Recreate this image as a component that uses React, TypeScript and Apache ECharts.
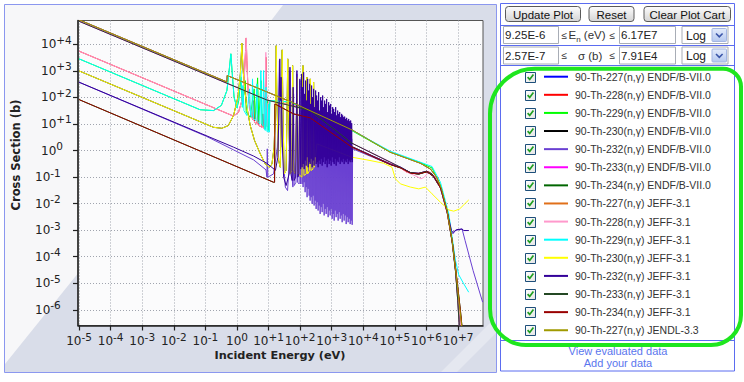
import React, { useEffect, useRef } from "react";
import * as echarts from "echarts";

type P = [number, number];

const xTickValues = [1e-5, 1e-4, 1e-3, 1e-2, 1e-1, 1, 10, 100, 1e3, 1e4, 1e5, 1e6, 1e7];
const yTickValues = [1e-6, 1e-5, 1e-4, 1e-3, 1e-2, 1e-1, 1, 10, 100, 1e3, 1e4];

const seriesNames = [
  "90-Th-227(n,γ) ENDF/B-VII.0",
  "90-Th-228(n,γ) ENDF/B-VII.0",
  "90-Th-229(n,γ) ENDF/B-VII.0",
  "90-Th-230(n,γ) ENDF/B-VII.0",
  "90-Th-232(n,γ) ENDF/B-VII.0",
  "90-Th-233(n,γ) ENDF/B-VII.0",
  "90-Th-234(n,γ) ENDF/B-VII.0",
  "90-Th-227(n,γ) JEFF-3.1",
  "90-Th-228(n,γ) JEFF-3.1",
  "90-Th-229(n,γ) JEFF-3.1",
  "90-Th-230(n,γ) JEFF-3.1",
  "90-Th-232(n,γ) JEFF-3.1",
  "90-Th-233(n,γ) JEFF-3.1",
  "90-Th-234(n,γ) JEFF-3.1",
  "90-Th-227(n,γ) JENDL-3.3",
];

const seriesColors = [
  "#0000ff", "#ff0000", "#00ff00", "#000000", "#6a40d2", "#ff00ff", "#006600",
  "#e0701a", "#ff99cc", "#00ffff", "#ffff00", "#330099", "#244824", "#990000", "#a09a00",
];

// ---- Th-227 ----
const th227: P[] = [[1e-5, 8.4e4], [0.48, 383], [0.49, 668], [48.8, 70], [4370, 6.0], [7.2e4, 0.865], [6.4e5, 0.333], [1.34e6, 0.2], [2.1e6, 0.1], [3.0e6, 0.036], [4.5e6, 0.0055], [6.5e6, 4.1e-4], [8.9e6, 1.7e-5], [1.12e7, 1.26e-6], [1.34e7, 1.9e-7]];

// ---- Th-228 ----
const th228Low: P[] = [[1e-5, 5540], [0.78, 19.8], [1.12, 27.6], [1.43, 76], [1.7, 580], [1.87, 5800], [1.96, 1.74e4], [2.06, 2450], [2.27, 136], [2.63, 32], [3.15, 14.5]];
const th228EndfRes: P[] = [[3.36, 76], [3.59, 11.7], [4.28, 10], [4.6, 32], [4.94, 8.7], [6.17, 7.6], [6.6, 24], [7.13, 6.9], [7.87, 118], [8.26, 3270], [8.65, 210], [9.1, 8], [9.5, 60], [11.3, 76]];
const th228JeffRes: P[] = [[4.28, 10], [6.17, 7.6], [7.13, 6.9], [7.87, 150], [8.2, 5000], [8.55, 150], [9.1, 8], [9.5, 60], [11.3, 76]];
const th228Mid: P[] = [[62, 49.5], [209, 32], [4370, 1.34], [7.2e4, 0.31], [1.17e5, 0.27], [2.4e5, 0.153]];
const th228JeffFast: P[] = [[5.0e5, 0.105], [6.7e5, 0.086], [8.5e5, 0.099], [1.18e6, 0.153], [1.7e6, 0.114], [2.77e6, 0.039], [4.5e6, 0.0048], [6.5e6, 4.1e-4], [8.3e6, 4.1e-5], [1.05e7, 2.2e-6], [1.2e7, 2.6e-7]];
const th228EndfFast: P[] = [[5.0e5, 0.135], [8.5e5, 0.15], [1.18e6, 0.16], [1.7e6, 0.114], [2.77e6, 0.039], [4.5e6, 0.0048], [6.5e6, 4.1e-4], [8.3e6, 4.1e-5], [1.05e7, 2.2e-6], [1.2e7, 2.6e-7]];

// ---- Th-229 ----
const th229Low: P[] = [[1e-5, 2840], [0.068, 34.4], [0.18, 32], [0.32, 50], [0.48, 182], [0.58, 1380], [0.64, 4400], [0.71, 775], [0.81, 101], [1.0, 40]];
const th229JeffRes: P[] = [[1.14, 102], [1.33, 1030], [1.43, 102], [1.5, 43], [1.54, 280], [1.66, 32], [2.06, 20.8], [2.5, 210], [2.7, 20.8], [2.96, 18], [3.1, 500], [3.36, 15.5], [3.95, 13.5], [4.28, 325], [4.6, 11.7], [5.3, 10], [5.7, 1030], [6.17, 10], [6.6, 8.7], [6.97, 1030], [7.4, 6.5], [7.9, 5.7], [8.3, 243], [8.88, 5.35], [9.5, 4.9], [10.0, 57], [10.5, 4.9], [11.0, 76]];
const th229JeffFast: P[] = [[48.8, 68], [4370, 5.8], [7.2e4, 0.94], [6.4e5, 0.364], [1.5e6, 0.25], [2.77e6, 0.064], [5.1e6, 0.0041], [8.3e6, 7.2e-5], [1.05e7, 2.1e-5], [1.52e7, 9.5e-6], [2.18e7, 4.6e-6]];
const th229EndfRes: P[] = [[1.14, 76], [1.33, 580], [1.48, 43], [1.83, 430], [1.96, 28], [2.63, 18], [3.5, 210], [3.8, 15.5], [4.5, 546], [4.9, 13.5], [5.8, 430], [6.3, 10], [7.9, 6.5], [9.1, 76], [9.8, 5.7], [11.0, 76]];
const th229EndfFast: P[] = [[48.8, 66], [4370, 5.6], [7.2e4, 0.86], [6.4e5, 0.35], [1.5e6, 0.22], [2.77e6, 0.05], [4.5e6, 0.0055], [6.5e6, 4.1e-4], [8.3e6, 3.3e-5], [9.8e6, 2.2e-6], [1.12e7, 2e-7]];

// ---- Th-230 ----
const th230Low: P[] = [[1e-5, 1000], [0.18, 7.5], [0.33, 6.9], [0.53, 8.7], [0.78, 21], [1.07, 102], [1.28, 775], [1.43, 1.1e4], [1.54, 1380], [1.73, 243], [2.06, 43], [2.63, 8.7], [3.6, 2.4], [5.46, 0.75], [7.87, 0.31], [10.7, 0.235], [12.8, 0.31], [15, 1.34], [16.8, 76], [17.5, 8900], [18.3, 76], [20.8, 0.42], [23.5, 0.235], [25.8, 76], [27, 6200], [28.3, 76], [31, 0.132], [36, 0.177], [38.6, 43], [40.5, 2840], [42.4, 43], [48.8, 0.132], [55, 0.177], [57.8, 1590], [62, 0.177], [70, 0.132], [81, 580], [86.5, 0.132], [114, 0.099], [123, 1590], [132, 0.115], [157, 0.132], [164, 580], [173, 0.132], [200, 0.177], [209, 500], [220, 0.177], [255, 0.2], [267, 375], [281, 0.235], [340, 1.78]];
const th230JeffFast: P[] = [[4370, 0.56], [1.3e4, 0.445], [4.4e4, 0.333], [8.1e4, 0.235], [1.04e5, 0.086], [1.5e5, 0.0555], [3.1e5, 0.042], [5.7e5, 0.036], [9.3e5, 0.042], [1.5e6, 0.0234], [2.77e6, 0.0113], [5.1e6, 0.0058], [7.3e6, 0.0052], [1.12e7, 0.0063], [2.18e7, 0.0138]];
const th230EndfFast: P[] = [[435, 18], [4370, 1.41], [7.2e4, 0.31], [1.5e5, 0.222], [3.1e5, 0.144], [5.7e5, 0.128], [1.0e6, 0.162], [1.6e6, 0.111], [2.77e6, 0.039], [4.5e6, 0.0048], [6.5e6, 3.5e-4], [8.5e6, 2.2e-5], [1.05e7, 1.26e-6], [1.19e7, 2.2e-7]];

// ---- Th-232 ----
const th232JeffLow: P[] = [[1e-5, 375], [0.78, 1.34], [3.36, 0.62], [8.88, 0.33], [16.5, 0.18], [19.7, 0.56], [21.8, 76], [22.7, 2840], [23.8, 76], [24.9, 580], [26.5, 4.2], [30, 0.1], [36, 0.048], [45, 0.132], [47.6, 1380], [51, 0.132], [56, 0.074], [60, 243], [64.5, 0.074], [72, 0.099], [79, 1030], [85, 0.099], [91, 0.132], [98, 500], [104, 0.2]];
const th232EndfLow: P[] = [[1e-5, 375], [0.11, 3.38], [0.78, 1.06], [3.36, 0.445], [8.3, 0.187], [8.88, 0.099], [9.1, 1.16], [9.5, 0.099], [14.4, 0.132], [19, 1.34], [22.1, 2450], [24.3, 1.34], [26.5, 325], [28.3, 1.0], [33.9, 0.042], [40, 0.031], [45.8, 0.42], [47.6, 1030], [50, 0.42], [59, 0.042], [62, 136], [64.5, 0.048], [74, 0.064], [79, 770], [83, 0.064], [93, 0.055], [98, 430], [103, 0.055]];
const forestPeakE = [111, 120, 129, 139, 149, 160, 173, 186, 200, 215, 231, 249, 267, 288, 310, 333, 358, 385, 415, 446, 480, 516, 555, 597, 643, 691, 743, 800, 861, 925, 995, 1071, 1151, 1239, 1333, 1433, 1542, 1660, 1786, 1919, 2065, 2222, 2388, 2570, 2767, 2972, 3199, 3443, 3705, 3981, 4285];
const forestValleyE = [115, 124, 134, 144, 155, 166, 179, 193, 207, 223, 240, 258, 277, 299, 321, 345, 371, 399, 430, 462, 498, 535, 576, 619, 667, 717, 771, 830, 893, 959, 1032, 1111, 1194, 1285, 1382, 1486, 1599, 1721, 1852, 1990, 2141, 2304, 2476, 2665, 2869, 3082, 3317, 3570, 3842, 4128, 4440];
const th232JeffPeak = [770, 243, 890, 136, 430, 76, 500, 182, 325, 57, 280, 102, 210, 43, 182, 118, 76, 158, 32, 102, 76, 118, 43, 76, 57, 88, 28, 66, 49.5, 57, 24, 43, 37, 28, 43, 21, 32, 24, 28, 18, 24, 21, 18, 19, 15.5, 17, 13.5, 15.5, 12.7, 13.5, 10.7];
const th232JeffValley = [0.235, 0.31, 0.2, 0.42, 0.27, 0.56, 0.235, 0.365, 0.31, 0.49, 0.235, 0.42, 0.27, 0.56, 0.31, 0.365, 0.235, 0.42, 0.31, 0.49, 0.27, 0.365, 0.56, 0.31, 0.42, 0.235, 0.49, 0.31, 0.42, 0.27, 0.56, 0.365, 0.31, 0.49, 0.27, 0.42, 0.365, 0.56, 0.31, 0.42, 0.365, 0.49, 0.31, 0.42, 0.365, 0.49, 0.31, 0.42, 0.365, 0.45, 0.365];
const th232EndfPeak = [32, 24, 43, 18, 32, 13.5, 24, 15.5, 21, 10, 18, 11.7, 15.5, 7.6, 13.5, 10, 8.7, 11.7, 6.5, 10, 7.6, 8.7, 5.7, 7.6, 6.5, 7.6, 4.9, 6.5, 5.7, 6.0, 4.2, 5.7, 4.9, 5.3, 4.2, 4.9, 3.7, 4.5, 4.0, 4.2, 3.2, 4.0, 3.4, 3.7, 3.2, 3.6, 3.0, 3.4, 2.75, 3.2, 2.75];
const th232EndfValley = [0.055, 0.042, 0.064, 0.027, 0.042, 0.0175, 0.036, 0.02, 0.013, 0.0175, 0.0098, 0.02, 0.0085, 0.013, 0.0063, 0.0113, 0.0055, 0.0085, 0.0041, 0.0074, 0.0048, 0.0098, 0.0036, 0.0063, 0.0041, 0.0074, 0.0031, 0.0055, 0.0036, 0.0063, 0.0027, 0.0041, 0.0023, 0.0055, 0.0031, 0.0041, 0.0023, 0.0048, 0.0027, 0.0036, 0.002, 0.0041, 0.0023, 0.0036, 0.0017, 0.0031, 0.002, 0.0027, 0.0017, 0.0023, 0.0016];
const th232JeffFast: P[] = [[4600, 1.34], [7.2e4, 0.31], [1.5e5, 0.235], [3.1e5, 0.148], [5.7e5, 0.136], [1.0e6, 0.166], [1.6e6, 0.118], [2.77e6, 0.042], [4.5e6, 0.0052], [6.2e6, 9.7e-4], [6.9e6, 8.2e-4], [8.9e6, 1.05e-3], [1.34e7, 1.1e-3], [1.52e7, 9.7e-4], [2.18e7, 9.7e-4]];
const th232EndfFast: P[] = [[4600, 1.16], [7.2e4, 0.297], [1.5e5, 0.235], [3.1e5, 0.148], [5.7e5, 0.132], [1.0e6, 0.162], [1.6e6, 0.114], [2.77e6, 0.039], [4.5e6, 0.0048], [6.0e6, 9.7e-4], [6.9e6, 7.3e-4], [8.3e6, 9.7e-4], [1.34e7, 1.12e-3], [1.67e7, 4.1e-4], [3.0e7, 3.0e-5], [6.0e7, 1.95e-6]];

// ---- Th-233 ----
const th233: P[] = [[1e-5, 7.4e4], [8.88, 80], [48.8, 49.5], [209, 32], [4370, 1.89], [7.2e4, 0.364], [1.5e5, 0.235], [3.1e5, 0.148], [5.7e5, 0.14], [1.0e6, 0.166], [1.5e6, 0.132], [2.77e6, 0.042], [4.5e6, 0.0055], [6.5e6, 4.1e-4], [8.3e6, 3.0e-5], [9.8e6, 2.2e-6], [1.1e7, 2.2e-7]];

// ---- Th-234 ----
const th234: P[] = [[1e-5, 83], [14.4, 0.064], [15.5, 0.064], [15.9, 57], [62, 24], [209, 17], [4370, 1.34], [7.2e4, 0.297], [1.5e5, 0.222], [3.1e5, 0.14], [5.7e5, 0.132], [1.05e6, 0.158], [1.7e6, 0.105], [2.9e6, 0.036], [4.7e6, 0.0041], [7.0e6, 2.3e-4], [9.3e6, 1.26e-5], [1.19e7, 9.4e-7], [1.37e7, 1.66e-7]];

function resonances(pe: number[], pv: number[], ve: number[], vv: number[]): P[] {
  const out: P[] = [];
  for (let i = 0; i < pe.length; i++) {
    out.push([pe[i], pv[i]]);
    out.push([ve[i], vv[i]]);
  }
  return out;
}

const seriesData: P[][] = [
  th227,
  [...th228Low, ...th228EndfRes, ...th228Mid, ...th228EndfFast],
  [...th229Low, ...th229EndfRes, ...th229EndfFast],
  [...th230Low, ...th230EndfFast],
  [...th232EndfLow, ...resonances(forestPeakE, th232EndfPeak, forestValleyE, th232EndfValley), ...th232EndfFast],
  th233,
  th234,
  th227,
  [...th228Low, ...th228JeffRes, ...th228Mid, ...th228JeffFast],
  [...th229Low, ...th229JeffRes, ...th229JeffFast],
  [...th230Low, ...th230JeffFast],
  [...th232JeffLow, ...resonances(forestPeakE, th232JeffPeak, forestValleyE, th232JeffValley), ...th232JeffFast],
  th233,
  th234,
  th227,
];

const FONT_UI = '"Liberation Sans", Arial, sans-serif';
const FONT_AX = '"DejaVu Sans", Verdana, sans-serif';

function expOf(v: number) {
  return Math.round(Math.log10(v));
}

function fmtX(v: number) {
  const p = expOf(v);
  return `{b|10}{s|${p > 0 ? "+" + p : p}}`;
}
function fmtY(v: number) {
  const p = expOf(v);
  if (p < 0) return `{b|10}{s|${p}}`;
  return `{p| }{b|10}{s|${p > 0 ? "+" + p : p}}`;
}

function buildGraphics() {
  const g: any[] = [];
  const bg = (el: any) => g.push({ silent: true, z: -10, ...el });
  const fg = (el: any) => g.push({ silent: true, z: 10, ...el });

  // chart panel background
  bg({ type: "rect", shape: { x: 4.5, y: 4.5, width: 492, height: 368 }, style: { fill: "#d9dde9", stroke: "#8b97ef", lineWidth: 1 } });
  bg({ type: "polygon", shape: { points: [[5, 5], [283, 5], [79, 272], [5, 364]] }, style: { fill: "#f7f7f9" } });
  bg({ type: "polygon", shape: { points: [[441, 372], [496, 317], [496, 333], [457, 372]] }, style: { fill: "#e5e8f0" } });

  // right panel
  bg({ type: "rect", shape: { x: 500.5, y: 3.5, width: 234, height: 367.5 }, style: { fill: "#ffffff", stroke: "#5b6cf0", lineWidth: 1 } });
  [25.5, 45.5, 65.5, 340.5].forEach((y) =>
    bg({ type: "line", shape: { x1: 500.5, y1: y, x2: 734.5, y2: y }, style: { stroke: "#5b6cf0", lineWidth: 1 } })
  );

  // buttons
  const btnFill = { type: "linear", x: 0, y: 0, x2: 0, y2: 1, colorStops: [{ offset: 0, color: "#fdfdfd" }, { offset: 1, color: "#d4d4d4" }] };
  const buttons: [string, number, number][] = [["Update Plot", 505, 75], ["Reset", 588.5, 45], ["Clear Plot Cart", 643.5, 86.5]];
  buttons.forEach(([label, x, w]) => {
    fg({ type: "rect", shape: { x: x + 0.5, y: 6.5, width: w, height: 15, r: 3 }, style: { fill: btnFill, stroke: "#5a5a5a", lineWidth: 1 } });
    fg({ type: "text", x: x + 0.5 + w / 2, y: 14.5, style: { text: label, font: `11.5px ${FONT_UI}`, fill: "#111", align: "center", verticalAlign: "middle" } });
  });

  // range inputs
  const rows: [number, string, string][] = [[26.5, "9.25E-6", "6.17E7"], [47, "2.57E-7", "7.91E4"]];
  rows.forEach(([y, a, b], idx) => {
    fg({ type: "rect", shape: { x: 503.5, y, width: 55, height: 17 }, style: { fill: "#fff", stroke: "#a8adb6", lineWidth: 1 } });
    fg({ type: "rect", shape: { x: 619.5, y, width: 56, height: 17 }, style: { fill: "#fff", stroke: "#a8adb6", lineWidth: 1 } });
    fg({ type: "text", x: 505, y: y + 8.5, style: { text: a, font: `11.5px ${FONT_UI}`, fill: "#222", verticalAlign: "middle" } });
    fg({ type: "text", x: 621, y: y + 8.5, style: { text: b, font: `11.5px ${FONT_UI}`, fill: "#222", verticalAlign: "middle" } });
    fg({ type: "text", x: 561.5, y: y + 8.5, style: { text: "≤", font: `10px ${FONT_UI}`, fill: "#333", verticalAlign: "middle" } });
    fg({ type: "text", x: 609.5, y: y + 8.5, style: { text: "≤", font: `10px ${FONT_UI}`, fill: "#333", verticalAlign: "middle" } });
    if (idx === 0) {
      fg({
        type: "text", x: 568.5, y: y + 8.5,
        style: {
          text: "{a|E}{n|n}{a| (eV)}", verticalAlign: "middle", fill: "#333",
          rich: {
            a: { font: `11.5px ${FONT_UI}`, fill: "#333", lineHeight: 16 },
            n: { font: `8px ${FONT_UI}`, fill: "#333", lineHeight: 8, verticalAlign: "bottom" },
          },
        },
      });
    } else {
      fg({ type: "text", x: 578, y: y + 8.5, style: { text: "σ (b)", font: `11.5px ${FONT_UI}`, fill: "#333", verticalAlign: "middle" } });
    }
    // select
    fg({ type: "rect", shape: { x: 682, y, width: 46, height: 17 }, style: { fill: "#fff", stroke: "#a8adb6", lineWidth: 1 } });
    fg({ type: "text", x: 686, y: y + 9, style: { text: "Log", font: `12px ${FONT_UI}`, fill: "#222", verticalAlign: "middle" } });
    fg({
      type: "rect", shape: { x: 712, y: y + 2, width: 14.5, height: 13, r: 1 },
      style: { fill: { type: "linear", x: 0, y: 0, x2: 0, y2: 1, colorStops: [{ offset: 0, color: "#e3ebfb" }, { offset: 1, color: "#b5c8ef" }] }, stroke: "#a3b6e2", lineWidth: 1 },
    });
    fg({ type: "polyline", shape: { points: [[716, y + 7], [719.3, y + 10.3], [722.6, y + 7]] }, style: { stroke: "#3a55a8", lineWidth: 1.6, fill: "none" } });
  });

  // checkboxes
  for (let i = 0; i < seriesNames.length; i++) {
    const cy = Math.round(76.7 + 18.11 * i);
    fg({
      type: "rect", shape: { x: 525.5, y: cy - 4.5, width: 10, height: 10 },
      style: { fill: { type: "linear", x: 0, y: 0, x2: 1, y2: 1, colorStops: [{ offset: 0, color: "#ffffff" }, { offset: 1, color: "#e4e4e4" }] }, stroke: "#1d4f7a", lineWidth: 1 },
    });
    fg({ type: "polyline", shape: { points: [[527.6, cy + 0.2], [529.7, cy + 2.4], [533.4, cy - 2.4]] }, style: { stroke: "#1f9e1f", lineWidth: 1.7, fill: "none" } });
  }

  // links
  fg({ type: "text", x: 618, y: 350.5, style: { text: "View evaluated data", font: `11px ${FONT_UI}`, fill: "#5a76ee", align: "center", verticalAlign: "middle" } });
  fg({ type: "text", x: 618, y: 363, style: { text: "Add your data", font: `11px ${FONT_UI}`, fill: "#5a76ee", align: "center", verticalAlign: "middle" } });

  // green highlight
  g.push({ type: "rect", silent: true, z: 100, shape: { x: 490, y: 68.7, width: 251, height: 276.3, r: [45, 18, 30, 36] }, style: { fill: "none", stroke: "#1ee61e", lineWidth: 4 } });

  // axis names
  fg({ type: "text", x: 15.5, y: 155, rotation: Math.PI / 2, style: { text: "Cross Section (b)", font: `bold 11.5px ${FONT_AX}`, fill: "#222", align: "center", verticalAlign: "middle" } });
  fg({ type: "text", x: 280, y: 355, style: { text: "Incident Energy (eV)", font: `bold 11.3px ${FONT_AX}`, lineHeight: 12, fill: "#222", align: "center", verticalAlign: "middle" } });

  return g;
}

export default function App() {
  const ref = useRef<HTMLDivElement>(null);
  useEffect(() => {
    if (!ref.current) return;
    const chart = echarts.init(ref.current, undefined, { renderer: "svg" });
    const richX = {
      b: { fontSize: 12, lineHeight: 15, fontFamily: FONT_AX, color: "#222" },
      s: { fontSize: 10.5, height: 6, lineHeight: 6, verticalAlign: "top", fontFamily: FONT_AX, color: "#222" },
    };
    const richY = {
      b: { fontSize: 12, lineHeight: 20, fontFamily: FONT_AX, color: "#222" },
      s: { fontSize: 10.5, height: 11, lineHeight: 11, verticalAlign: "top", fontFamily: FONT_AX, color: "#222" },
      p: { width: 6, fontSize: 10, lineHeight: 20 },
    };
    chart.setOption({
      animation: false,
      backgroundColor: "#ffffff",
      grid: { left: 78, top: 20.5, width: 405, height: 305, show: true, backgroundColor: "#fbfbfc", borderColor: "#555", borderWidth: 1, containLabel: false },
      xAxis: {
        type: "log", logBase: 10, min: 9.25e-6, max: 6.17e7,
        axisLine: { show: true, onZero: false, lineStyle: { color: "#222", width: 1.5 } },
        axisTick: { show: true, length: 5, customValues: xTickValues, lineStyle: { color: "#222", width: 1.2 } },
        axisLabel: { customValues: xTickValues, formatter: fmtX, rich: richX, margin: 8.3, interval: 0, hideOverlap: false, showMinLabel: true, showMaxLabel: true },
        splitLine: { show: true, lineStyle: { color: "#a0a4ae", type: [1, 2], width: 1 } },
        minorTick: { show: false },
        minorSplitLine: { show: false },
      },
      yAxis: {
        type: "log", logBase: 10, min: 2.57e-7, max: 7.91e4,
        axisLine: { show: true, onZero: false, lineStyle: { color: "#222", width: 1.5 } },
        axisTick: { show: true, length: 5, customValues: yTickValues, lineStyle: { color: "#222", width: 1.2 } },
        axisLabel: { customValues: yTickValues, formatter: fmtY, rich: richY, margin: 43, align: "left", interval: 0, hideOverlap: false },
        splitLine: { show: true, lineStyle: { color: "#a0a4ae", type: [1, 2], width: 1 } },
        minorTick: { show: false },
        minorSplitLine: { show: false },
      },
      legend: {
        orient: "vertical", left: 544, top: 69.7, padding: 0,
        itemWidth: 24, itemHeight: 2, itemGap: 4.11, icon: "rect", selectedMode: false,
        textStyle: { fontSize: 10.5, lineHeight: 14, fontFamily: FONT_UI, color: "#333", padding: [0, 0, 0, 2] },
        data: seriesNames,
      },
      graphic: { elements: buildGraphics() },
      series: seriesNames.map((name, i) => ({
        type: "line",
        name,
        data: seriesData[i],
        showSymbol: false,
        symbol: "none",
        color: seriesColors[i],
        itemStyle: { color: seriesColors[i] },
        lineStyle: { width: 1, color: seriesColors[i] },
        clip: true,
        z: 2,
      })),
    });
    return () => chart.dispose();
  }, []);
  return <div ref={ref} style={{ position: "fixed", left: 0, top: 0, width: 744, height: 382 }} />;
}
